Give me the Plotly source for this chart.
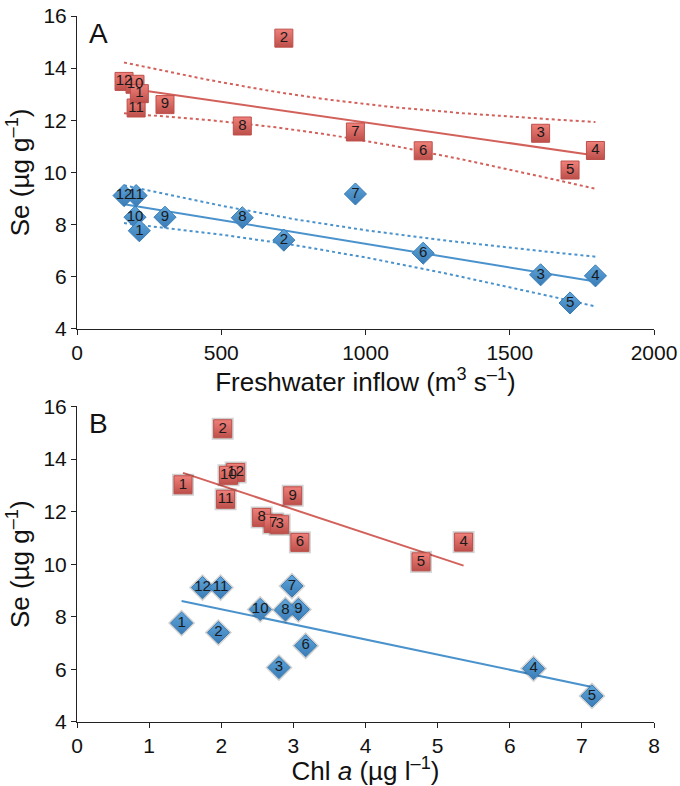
import numpy as np
import plotly.graph_objects as go
from plotly.subplots import make_subplots

# ---------------- data ----------------
months = ["1", "2", "3", "4", "5", "6", "7", "8", "9", "10", "11", "12"]
inflow = [216, 717, 1607, 1797, 1709, 1200, 965, 573, 305, 201, 205, 163]
se_red = [13.02, 15.15, 11.50, 10.84, 10.09, 10.83, 11.55, 11.78, 12.60, 13.38, 12.47, 13.49]
se_blue = [7.76, 7.40, 6.07, 6.03, 4.99, 6.90, 9.17, 8.26, 8.28, 8.28, 9.11, 9.11]
chl_red = [1.47, 2.02, 2.81, 5.36, 4.77, 3.09, 2.72, 2.56, 2.99, 2.10, 2.06, 2.20]
chl_blue = [1.45, 1.96, 2.80, 6.33, 7.14, 3.17, 2.98, 2.89, 3.07, 2.54, 1.99, 1.74]

x_ticks_a = [0, 500, 1000, 1500, 2000]
x_ticks_b = [0, 1, 2, 3, 4, 5, 6, 7, 8]
y_ticks = [4, 6, 8, 10, 12, 14, 16]
T_975_DF10 = 2.228  # Student t, 95 %, 10 d.f.

RED_LINE = "#d3615b"
RED_FILL = "#f0807a"
RED_EDGE = "#bd4f4a"
BLUE_LINE = "#4a92cc"
BLUE_FILL = "#5fa5db"
BLUE_EDGE = "#3a7cb6"
FONT = "Liberation Sans, Arial, Helvetica, sans-serif"


def fit(x, y, n=60):
    x = np.asarray(x, float)
    y = np.asarray(y, float)
    b, a = np.polyfit(x, y, 1)
    xs = np.linspace(x.min(), x.max(), n)
    ys = a + b * xs
    res = y - (a + b * x)
    s = np.sqrt(np.sum(res ** 2) / (len(x) - 2))
    sxx = np.sum((x - x.mean()) ** 2)
    half = T_975_DF10 * s * np.sqrt(1 / len(x) + (xs - x.mean()) ** 2 / sxx)
    return xs, ys, ys - half, ys + half


fig = make_subplots(rows=2, cols=1, vertical_spacing=0.11)

# ---------- Panel A regression + 95% CI ----------
for xv, yv, lc in [(inflow, se_red, RED_LINE), (inflow, se_blue, BLUE_LINE)]:
    xs, ys, lo, hi = fit(xv, yv)
    fig.add_trace(go.Scatter(x=xs, y=ys, mode="lines", line=dict(color=lc, width=2),
                             hoverinfo="skip", showlegend=False), row=1, col=1)
    for band in (lo, hi):
        fig.add_trace(go.Scatter(x=xs, y=band, mode="lines",
                                 line=dict(color=lc, width=2, dash="dot"),
                                 hoverinfo="skip", showlegend=False), row=1, col=1)

# ---------- Panel B regression ----------
for xv, yv, lc in [(chl_red, se_red, RED_LINE), (chl_blue, se_blue, BLUE_LINE)]:
    xs, ys, lo, hi = fit(xv, yv)
    fig.add_trace(go.Scatter(x=xs, y=ys, mode="lines", line=dict(color=lc, width=2),
                             hoverinfo="skip", showlegend=False), row=2, col=1)


def markers(x, y, symbol, fill, edge, size, row, shadow=False):
    order = list(reversed(range(len(x))))
    xo = [x[i] for i in order]
    yo = [y[i] for i in order]
    to = [months[i] for i in order]
    if shadow:
        fig.add_trace(go.Scatter(
            x=xo, y=yo, mode="markers",
            marker=dict(symbol=symbol, size=size + 4, color="rgba(0,0,0,0.18)",
                        line=dict(width=0)),
            hoverinfo="skip", showlegend=False), row=row, col=1)
    fig.add_trace(go.Scatter(
        x=xo, y=yo, text=to,
        mode="markers+text", textposition="middle center",
        textfont=dict(family=FONT, size=15, color="#1a1a1a"),
        marker=dict(symbol=symbol, size=size, color=fill,
                    gradient=dict(type="vertical", color=edge),
                    line=dict(color=edge, width=1)),
        hoverinfo="skip", showlegend=False), row=row, col=1)


markers(inflow, se_blue, "diamond", BLUE_FILL, BLUE_EDGE, 17, 1)
markers(inflow, se_red, "square", RED_FILL, RED_EDGE, 18, 1)
markers(chl_blue, se_blue, "diamond", BLUE_FILL, BLUE_EDGE, 17, 2, shadow=True)
markers(chl_red, se_red, "square", RED_FILL, RED_EDGE, 18, 2, shadow=True)

axis_common = dict(showline=True, linecolor="#222", linewidth=1, ticks="outside",
                   ticklen=5, tickcolor="#222", showgrid=False, zeroline=False,
                   automargin=False,
                   tickfont=dict(family=FONT, size=21, color="#111"))
title_font = dict(family=FONT, size=26, color="#111")

fig.update_xaxes(range=[0, 2000], tickvals=x_ticks_a, row=1, col=1,
                 title=dict(text="Freshwater inflow (m<sup>3</sup> s<sup>–1</sup>)",
                            font=title_font, standoff=4),
                 **axis_common)
fig.update_xaxes(range=[0, 8], tickvals=x_ticks_b, row=2, col=1,
                 title=dict(text="Chl <i>a</i> (µg l<sup>–1</sup>)",
                            font=title_font, standoff=4),
                 **axis_common)
for r in (1, 2):
    fig.update_yaxes(range=[4, 16], tickvals=y_ticks, row=r, col=1,
                     title=dict(text="Se (µg g<sup>–1</sup>)",
                                font=title_font, standoff=6),
                     **axis_common)

fig.update_layout(
    width=680, height=786,
    margin=dict(l=77, r=26, t=16, b=64),
    plot_bgcolor="white", paper_bgcolor="white",
    font=dict(family=FONT),
)
fig.update_layout(
    yaxis=dict(domain=[0.557, 1.0]),
    yaxis2=dict(domain=[0.0, 0.447]),
)
fig.add_annotation(text="A", x=0.018, y=1.0, xref="paper", yref="paper",
                   xanchor="left", yanchor="top", showarrow=False,
                   font=dict(family=FONT, size=28, color="#111"))
fig.add_annotation(text="B", x=0.018, y=0.447, xref="paper", yref="paper",
                   xanchor="left", yanchor="top", showarrow=False,
                   font=dict(family=FONT, size=28, color="#111"))

fig.write_html("out.html", config={"displayModeBar": False},
               post_script="document.body.style.margin='0';document.body.style.overflow='hidden';")
